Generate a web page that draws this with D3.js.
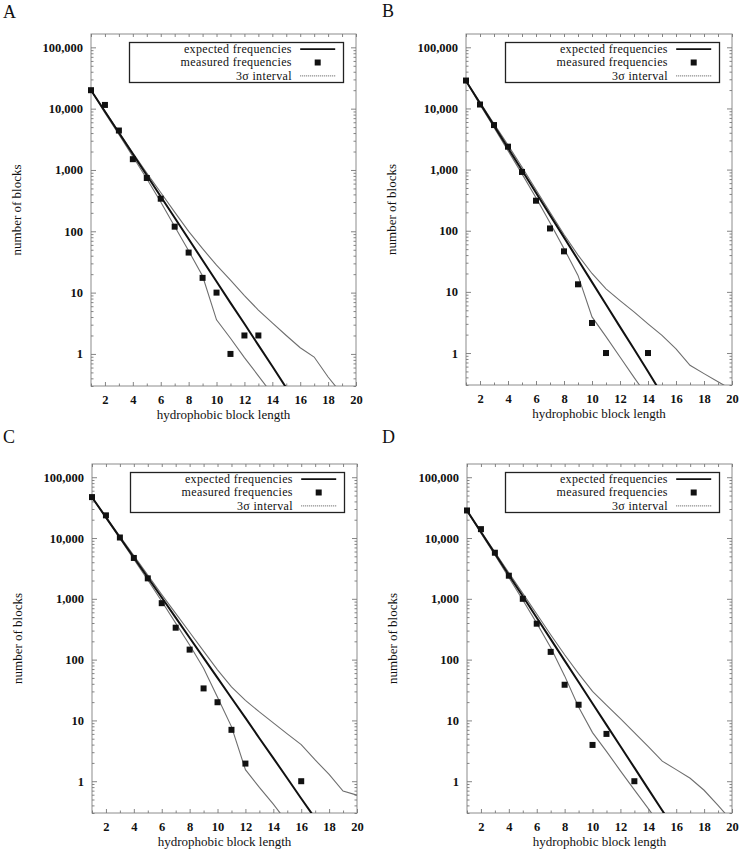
<!DOCTYPE html>
<html>
<head>
<meta charset="utf-8">
<script src="https://cdn.jsdelivr.net/npm/d3@7"></script>
<style>
  html, body { margin: 0; padding: 0; background: #fff; }
  svg { display: block; }
</style>
</head>
<body>
<svg id="chart" width="741" height="853"></svg>
<script>
// ---------------- DATA ----------------
const blockLength = [1,2,3,4,5,6,7,8,9,10,11,12,13,14,15,16,17,18,19,20];
const xTickLabels = [2,4,6,8,10,12,14,16,18,20];
const yTickValues = [1,10,100,1000,10000,100000];
const yTickLabels = ["1","10","100","1,000","10,000","100,000"];
const legendLabels = ["expected frequencies", "measured frequencies", "3\u03C3 interval"];
const panelLabels = ["A","B","C","D"];
const xAxisTitle = "hydrophobic block length";
const yAxisTitle = "number of blocks";

// Panel A
const measuredA = [20000,11500,4400,1500,740,340,119,45,17.4,10,1,2,2,null,null,null,null,null,null,null];
const expectedA = [20000,9000,4050,1820,820,370,166,75,33.7,15.2,6.8,3.1,1.39,0.63,0.28,null,null,null,null,null];
const upperA    = [20000,9100,4170,1900,890,430,205,100,52,28,16,8.9,5.2,3.2,2.0,1.26,0.89,0.42,0.22,null];
const lowerA    = [20000,8500,3800,1660,720,300,120,48,18.6,3.6,1.8,0.87,0.44,0.22,null,null,null,null,null,null];
// Panel B
const measuredB = [28600,11600,5350,2370,915,310,109,46,13.3,3.1,1,null,null,1,null,null,null,null,null,null];
const expectedB = [28200,12140,5240,2255,973,419,180,77.8,33.5,14.45,6.22,2.68,1.16,0.50,0.21,null,null,null,null,null];
const upperB    = [28200,12600,5620,2510,1100,468,200,87,40,20,11.2,7.2,4.7,3.0,1.95,1.17,0.63,0.46,0.34,0.25];
const lowerB    = [28200,11500,4900,2040,850,347,135,51,18.6,3.9,1.85,0.86,0.40,0.19,null,null,null,null,null,null];
// Panel C
const measuredC = [47100,23600,10200,4700,2170,848,335,146,33.6,19.9,7,1.95,null,null,null,1,null,null,null,null];
const expectedC = [46800,21900,10200,4790,2240,1050,490,229,107,50,23.4,11,5.1,2.4,1.12,0.52,0.245,null,null,null];
const upperC    = [46800,22400,10700,5130,2450,1175,575,282,138,68,35.5,21.4,13.8,9.1,6.0,4.0,2.24,1.29,0.69,0.59];
const lowerC    = [46800,21400,9800,4470,2040,912,398,174,72,24,7.9,1.55,0.79,0.42,0.21,null,null,null,null,null];
// Panel D
const measuredD = [28400,14000,5730,2400,1000,390,134,38.6,18.1,3.95,6,null,1,null,null,null,null,null,null,null];
const expectedD = [28200,12530,5560,2470,1100,489,217,96.4,42.9,19.0,8.45,3.76,1.67,0.74,0.33,0.15,null,null,null,null];
const upperD    = [28200,12900,5900,2690,1230,562,257,120,59,30,17.8,10.7,6.3,3.7,2.14,1.55,1.12,0.71,0.40,0.22];
const lowerD    = [28200,12000,5250,2240,955,398,158,54,16.6,6.3,3.1,1.48,0.72,0.355,0.17,null,null,null,null,null];

// ---------------- LAYOUT ----------------
const panels = [
  {label: panelLabels[0], measured: measuredA, expected: expectedA, upper: upperA, lower: lowerA, left: 91,  top: 34,  width: 265, height: 352, lx: 3,   ly: 18},
  {label: panelLabels[1], measured: measuredB, expected: expectedB, upper: upperB, lower: lowerB, left: 466, top: 34,  width: 266, height: 351, lx: 382, ly: 17},
  {label: panelLabels[2], measured: measuredC, expected: expectedC, upper: upperC, lower: lowerC, left: 92,  top: 464, width: 265, height: 349, lx: 3,   ly: 443},
  {label: panelLabels[3], measured: measuredD, expected: expectedD, upper: upperD, lower: lowerD, left: 467, top: 464, width: 265, height: 349, lx: 382, ly: 443}
];

const FONT = "Liberation Serif, Times New Roman, serif";
const svg = d3.select("#chart");
svg.append("rect").attr("width", 741).attr("height", 853).attr("fill", "#fff");

const yMinor = [];
[0.1,1,10,100,1000,10000,100000].forEach(d => { for (let k = 2; k <= 9; k++) { const v = d*k; if (v >= 0.3 && v <= 165000) yMinor.push(v); } });

panels.forEach((p, pi) => {
  const g = svg.append("g").attr("transform", `translate(${p.left},${p.top})`);
  const x = d3.scaleLinear().domain([1, 20]).range([0, p.width]);
  const y = d3.scaleLog().domain([0.3, 165000]).range([p.height, 0]);

  // panel letter
  svg.append("text").attr("x", p.lx).attr("y", p.ly)
    .attr("font-family", FONT).attr("font-size", 18).attr("fill", "#111").text(p.label);

  // frame
  g.append("rect").attr("x", 0).attr("y", 0).attr("width", p.width).attr("height", p.height)
    .attr("fill", "none").attr("stroke", "#8c8c8c").attr("stroke-width", 1);

  const styleAxis = (sel, size, bold) => {
    sel.select(".domain").remove();
    sel.selectAll(".tick line").attr("stroke", "#777").attr("stroke-width", 0.9);
    sel.selectAll("text").attr("font-family", FONT).attr("font-size", size)
      .attr("font-weight", bold ? "bold" : "normal").attr("fill", "#111");
  };

  // y axes: major labelled on left, mirrored on right, minor ticks
  g.append("g").call(d3.axisLeft(y).tickValues(yTickValues).tickFormat((d, i) => yTickLabels[i]).tickSize(-5).tickPadding(8))
    .call(s => styleAxis(s, 12.5, true));
  g.append("g").call(d3.axisLeft(y).tickValues(yMinor).tickFormat("").tickSize(-2.5)).call(s => styleAxis(s, 12, false));
  g.append("g").attr("transform", `translate(${p.width},0)`)
    .call(d3.axisRight(y).tickValues(yTickValues).tickFormat("").tickSize(-5)).call(s => styleAxis(s, 12, false));
  g.append("g").attr("transform", `translate(${p.width},0)`)
    .call(d3.axisRight(y).tickValues(yMinor).tickFormat("").tickSize(-2.5)).call(s => styleAxis(s, 12, false));

  // x axes
  g.append("g").attr("transform", `translate(0,${p.height})`)
    .call(d3.axisBottom(x).tickValues(xTickLabels).tickFormat(d3.format("d")).tickSize(-4).tickPadding(9))
    .call(s => styleAxis(s, 12.5, true));
  g.append("g").attr("transform", `translate(0,${p.height})`)
    .call(d3.axisBottom(x).tickValues(blockLength.filter(d => d % 2 === 1)).tickFormat("").tickSize(-2.5))
    .call(s => styleAxis(s, 12, false));
  g.append("g")
    .call(d3.axisTop(x).tickValues(blockLength).tickFormat("").tickSize(-3))
    .call(s => styleAxis(s, 12, false));

  // axis titles
  g.append("text").attr("x", p.width / 2).attr("y", p.height + 33)
    .attr("text-anchor", "middle").attr("font-family", FONT).attr("font-size", 13).attr("fill", "#111")
    .text(xAxisTitle);
  g.append("text").attr("transform", `translate(${-75},${p.height / 2}) rotate(-90)`)
    .attr("text-anchor", "middle").attr("dy", "0.35em").attr("font-family", FONT).attr("font-size", 13).attr("fill", "#111")
    .text(yAxisTitle);

  // clip
  const clipId = "clip" + pi;
  g.append("clipPath").attr("id", clipId).append("rect")
    .attr("x", 0).attr("y", 0).attr("width", p.width).attr("height", p.height);
  const plot = g.append("g").attr("clip-path", `url(#${clipId})`);

  const line = d3.line().defined(d => d[1] != null).x(d => x(d[0])).y(d => y(d[1]));
  const pairs = arr => blockLength.map((b, i) => [b, arr[i]]);

  [p.upper, p.lower].forEach(arr => {
    plot.append("path").attr("d", line(pairs(arr))).attr("fill", "none")
      .attr("stroke", "#6e6e6e").attr("stroke-width", 1.1);
  });
  plot.append("path").attr("d", line(pairs(p.expected))).attr("fill", "none")
    .attr("stroke", "#111").attr("stroke-width", 2);

  // measured squares
  g.selectAll(".pt").data(pairs(p.measured).filter(d => d[1] != null)).enter().append("rect")
    .attr("x", d => x(d[0]) - 3).attr("y", d => y(d[1]) - 3)
    .attr("width", 6).attr("height", 6).attr("fill", "#111");

  // legend
  const bw = 214, bh = 40;
  const bx = p.width - 12.5 - bw, by = 8.5;
  const lg = g.append("g").attr("transform", `translate(${bx},${by})`);
  lg.append("rect").attr("width", bw).attr("height", bh).attr("fill", "#fff")
    .attr("stroke", "#222").attr("stroke-width", 1.3);
  legendLabels.forEach((t, i) => {
    const cy = 6.6 + i * 13.4;
    lg.append("text").attr("x", bw - 51.6).attr("y", cy).attr("dy", "0.33em")
      .attr("text-anchor", "end").attr("font-family", FONT).attr("font-size", 12)
      .attr("letter-spacing", 0.35).attr("fill", "#111").text(t);
    if (i === 0) {
      lg.append("line").attr("x1", bw - 43.3).attr("x2", bw - 8.3).attr("y1", cy).attr("y2", cy)
        .attr("stroke", "#111").attr("stroke-width", 1.8);
    } else if (i === 1) {
      lg.append("rect").attr("x", bw - 25.8 - 3).attr("y", cy - 3).attr("width", 6).attr("height", 6).attr("fill", "#111");
    } else {
      lg.append("line").attr("x1", bw - 43.3).attr("x2", bw - 8.3).attr("y1", cy).attr("y2", cy)
        .attr("stroke", "#555").attr("stroke-width", 1).attr("stroke-dasharray", "1,1");
    }
  });
});
</script>
</body>
</html>
